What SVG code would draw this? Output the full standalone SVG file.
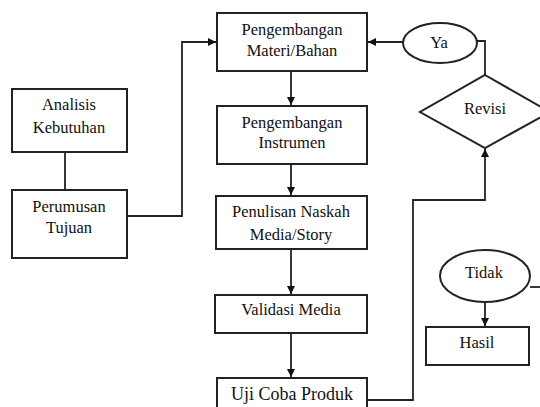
<svg xmlns="http://www.w3.org/2000/svg" width="540" height="407" viewBox="0 0 540 407">
<style>
.box{fill:#fff;stroke:#222;stroke-width:2}
.ln{fill:none;stroke:#222;stroke-width:1.8}
text{font-family:'Liberation Serif','Times New Roman',Times,serif;font-size:16.5px;fill:#111;text-anchor:middle}
.big{font-size:18px}
</style>
<defs>
<marker id="ah" viewBox="0 0 10 10" refX="10" refY="5" markerWidth="8" markerHeight="8" markerUnits="userSpaceOnUse" orient="auto">
<path d="M0,0 L10,5 L0,10 z" fill="#111"/>
</marker>
</defs>
<rect width="540" height="407" fill="#fff"/>
<g id="connectors">
<line class="ln" x1="65" y1="152" x2="65" y2="190"/>
<polyline class="ln" points="127,216 182,216 182,42 216,42" marker-end="url(#ah)"/>
<line class="ln" x1="291" y1="71" x2="291" y2="105" marker-end="url(#ah)"/>
<line class="ln" x1="291" y1="164" x2="291" y2="195" marker-end="url(#ah)"/>
<line class="ln" x1="291" y1="249" x2="291" y2="294" marker-end="url(#ah)"/>
<line class="ln" x1="291" y1="333" x2="291" y2="377" marker-end="url(#ah)"/>
<polyline class="ln" points="367,400 413,400 413,200 485,200 485,149" marker-end="url(#ah)"/>
<line class="ln" x1="403" y1="42" x2="368" y2="42" marker-end="url(#ah)"/>
<polyline class="ln" points="477,41 485,41 485,75"/>
<line class="ln" x1="485" y1="303" x2="485" y2="326" marker-end="url(#ah)"/>
<line class="ln" x1="530" y1="287" x2="542" y2="287"/>
</g>
<g id="analisis">
<rect class="box" x="12" y="89" width="115" height="63"/>
<text x="69" y="110" font-family="Liberation Serif, serif">Analisis</text>
<text x="69" y="133">Kebutuhan</text>
</g>
<g id="perumusan">
<rect class="box" x="12" y="190" width="115" height="68"/>
<text x="69" y="212">Perumusan</text>
<text x="69" y="233">Tujuan</text>
</g>
<g id="materi">
<rect class="box" x="217" y="13" width="150" height="58"/>
<text x="292" y="35">Pengembangan</text>
<text x="292" y="56">Materi/Bahan</text>
</g>
<g id="instrumen">
<rect class="box" x="217" y="106" width="150" height="58"/>
<text x="292" y="128">Pengembangan</text>
<text x="292" y="148">Instrumen</text>
</g>
<g id="penulisan">
<rect class="box" x="216" y="196" width="151" height="53"/>
<text x="291" y="217">Penulisan Naskah</text>
<text x="291" y="240">Media/Story</text>
</g>
<g id="validasi">
<rect class="box" x="215" y="295" width="152" height="38"/>
<text x="291" y="315">Validasi Media</text>
</g>
<g id="ujicoba">
<rect class="box" x="217" y="378" width="150" height="40"/>
<text class="big" x="292" y="400">Uji Coba Produk</text>
</g>
<g id="ya">
<ellipse class="box" cx="440" cy="43" rx="37" ry="20"/>
<text x="439" y="48">Ya</text>
</g>
<g id="revisi">
<polygon class="box" points="485,75 550,112 485,148 420,112"/>
<text x="485" y="114">Revisi</text>
</g>
<g id="tidak">
<ellipse class="box" cx="485" cy="276" rx="45" ry="26"/>
<text x="484" y="278">Tidak</text>
</g>
<g id="hasil">
<rect class="box" x="426" y="327" width="103" height="38"/>
<text x="477" y="348">Hasil</text>
</g>
</svg>
